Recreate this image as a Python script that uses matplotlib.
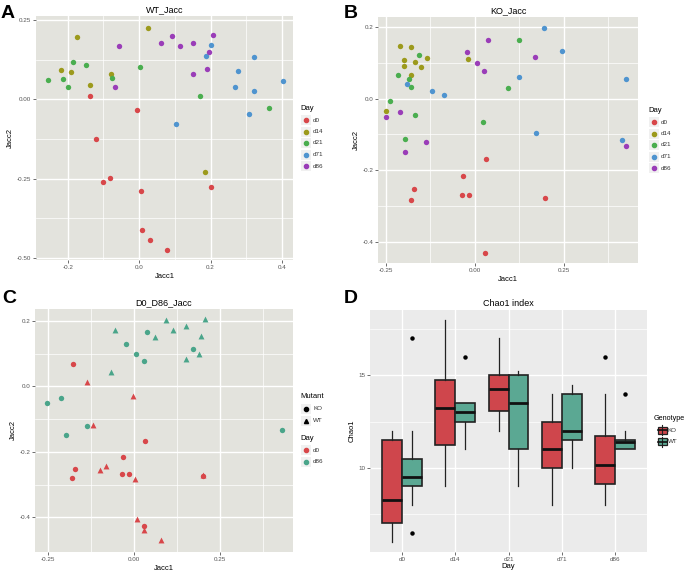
import numpy as np
import matplotlib
matplotlib.use("Agg")
import matplotlib.pyplot as plt
from matplotlib.lines import Line2D
from matplotlib.patches import Rectangle

plt.rcParams["font.family"] = ["Liberation Sans", "DejaVu Sans"]

# ---- data -------------------------------------------------------------
days = ["d0", "d14", "d21", "d71", "d86"]
day_colors = ["#d8474a", "#9c9a1c", "#4aae4f", "#4f94cf", "#9a3db8"]

# panel A: WT Jaccard ordination
wt_x = {
    "d0": [-0.137, -0.006, -0.121, -0.101, -0.083, 0.005, 0.201, 0.007, 0.029, 0.079],
    "d14": [0.024, -0.175, -0.219, -0.192, -0.080, -0.139, 0.184],
    "d21": [-0.254, -0.212, -0.200, -0.186, -0.150, -0.077, 0.001, 0.171, 0.365],
    "d71": [0.200, 0.187, 0.323, 0.276, 0.268, 0.323, 0.402, 0.309, 0.103],
    "d86": [-0.057, 0.062, 0.092, 0.114, 0.150, 0.208, 0.195, 0.150, 0.189, -0.068],
}
wt_y = {
    "d0": [0.010, -0.034, -0.124, -0.259, -0.248, -0.289, -0.275, -0.410, -0.444, -0.473],
    "d14": [0.226, 0.197, 0.093, 0.087, 0.081, 0.047, -0.229],
    "d21": [0.061, 0.066, 0.039, 0.118, 0.109, 0.068, 0.103, 0.010, -0.026],
    "d71": [0.171, 0.138, 0.133, 0.089, 0.038, 0.026, 0.058, -0.047, -0.076],
    "d86": [0.167, 0.179, 0.199, 0.169, 0.179, 0.203, 0.151, 0.081, 0.095, 0.040],
}

# panel B: KO Jaccard ordination
ko_x = {
    "d0": [0.030, -0.033, -0.171, -0.179, -0.035, -0.016, 0.197, 0.029],
    "d14": [-0.211, -0.178, -0.199, -0.167, -0.135, -0.199, -0.178, -0.152, -0.018, -0.250],
    "d21": [-0.156, -0.215, -0.184, -0.179, -0.238, -0.168, -0.197, 0.022, 0.094, 0.123],
    "d71": [-0.191, -0.121, -0.088, 0.125, 0.194, 0.244, 0.424, 0.172, 0.412],
    "d86": [0.038, -0.023, 0.005, 0.027, 0.170, -0.210, -0.250, -0.138, -0.197, 0.425],
}
ko_y = {
    "d0": [-0.170, -0.216, -0.254, -0.285, -0.270, -0.270, -0.279, -0.431],
    "d14": [0.148, 0.145, 0.108, 0.101, 0.113, 0.091, 0.066, 0.087, 0.110, -0.034],
    "d21": [0.123, 0.065, 0.055, 0.033, -0.007, -0.047, -0.112, -0.067, 0.030, 0.164],
    "d71": [0.041, 0.020, 0.010, 0.060, 0.197, 0.134, 0.055, -0.096, -0.117],
    "d86": [0.164, 0.130, 0.100, 0.076, 0.115, -0.038, -0.051, -0.122, -0.150, -0.133],
}

# panel C: d0 vs d86, both genotypes
c_ko_d0_x = [-0.179, 0.031, -0.032, -0.172, -0.181, -0.035, -0.016, 0.199, 0.028]
c_ko_d0_y = [0.068, -0.168, -0.215, -0.252, -0.281, -0.268, -0.268, -0.274, -0.428]
c_wt_d0_x = [-0.137, -0.005, -0.120, -0.101, -0.083, 0.003, 0.200, 0.007, 0.028, 0.078]
c_wt_d0_y = [0.014, -0.029, -0.119, -0.256, -0.243, -0.284, -0.271, -0.405, -0.440, -0.470]
c_ko_d86_x = [0.038, -0.023, 0.004, 0.028, 0.172, -0.212, -0.253, -0.139, -0.199, 0.431]
c_ko_d86_y = [0.165, 0.130, 0.100, 0.078, 0.115, -0.037, -0.050, -0.121, -0.148, -0.132]
c_wt_d86_x = [-0.056, 0.061, 0.091, 0.112, 0.150, 0.207, 0.194, 0.150, 0.189, -0.068]
c_wt_d86_y = [0.172, 0.152, 0.203, 0.172, 0.183, 0.205, 0.155, 0.084, 0.099, 0.045]

# panel D: Chao1 boxplot stats (per day: KO, WT)
chao_ko = dict(whislo=[6.0, 9.0, 12.0, 8.0, 8.0], q1=[7.0, 11.25, 13.1, 10.0, 9.15],
               med=[8.25, 13.25, 14.25, 11.0, 10.15], q3=[11.5, 14.75, 15.0, 12.5, 11.75],
               whishi=[12.0, 18.0, 17.0, 14.0, 14.0], fliers=[[], [], [], [], [16.0]])
chao_wt = dict(whislo=[8.0, 11.0, 9.0, 10.0, 11.0], q1=[9.0, 12.5, 11.0, 11.5, 11.0],
               med=[9.5, 13.0, 13.5, 12.0, 11.4], q3=[10.5, 13.5, 15.0, 14.0, 11.5],
               whishi=[12.0, 13.5, 15.25, 14.5, 12.0], fliers=[[17.0, 6.5], [16.0], [], [], [14.0]])
geno_colors = {"KO": "#cf464c", "WT": "#5ba893"}
teal = "#4aa58a"

# ---- helpers ----------------------------------------------------------
BG_OLD = "#e3e3dd"
BG_NEW = "#ebebeb"
TICK_C = "#555555"


def gg_axes(ax, bg, xmaj, xmin, ymaj, ymin, xlabs, ylabs):
    ax.set_facecolor(bg)
    for s in ax.spines.values():
        s.set_visible(False)
    for v in xmin:
        ax.axvline(v, color="white", lw=0.5, zorder=0)
    for v in ymin:
        ax.axhline(v, color="white", lw=0.5, zorder=0)
    for v in xmaj:
        ax.axvline(v, color="white", lw=1.0, zorder=0)
    for v in ymaj:
        ax.axhline(v, color="white", lw=1.0, zorder=0)
    ax.set_xticks(xmaj)
    ax.set_xticklabels(xlabs)
    ax.set_yticks(ymaj)
    ax.set_yticklabels(ylabs)
    ax.tick_params(length=2, width=0.5, color="#333333", labelsize=4.5,
                   labelcolor=TICK_C, pad=1.5)


def dot_legend(fig, x, y, title, labels, colors, markers=None, step=11.5):
    W, H = 689.0, 575.0
    fig.text(x / W, 1 - y / H, title, fontsize=5.5, va="center", ha="left")
    for i, lab in enumerate(labels):
        yy = y + 12 + i * step
        fig.add_artist(Rectangle(((x + 0.5) / W, 1 - (yy + 5) / H), 10 / W, 10 / H,
                                 transform=fig.transFigure, color="#f0f0f0", lw=0))
        m = markers[i] if markers else "o"
        fig.add_artist(Line2D([(x + 5.5) / W], [1 - yy / H], marker=m, markersize=3,
                              color=colors[i], lw=0, transform=fig.transFigure))
        fig.text((x + 13) / W, 1 - yy / H, lab, fontsize=4.5, va="center", ha="left",
                 color="#333333")


fig = plt.figure(figsize=(6.89, 5.75), dpi=100)
W, H = 689.0, 575.0


def add_ax(l, t, r, b):
    return fig.add_axes([l / W, 1 - b / H, (r - l) / W, (b - t) / H])


# ---- A ------------------------------------------------------------------
axA = add_ax(36, 16, 293, 260)
gg_axes(axA, BG_OLD, [-0.2, 0.0, 0.2, 0.4], [-0.1, 0.1, 0.3],
        [0.25, 0.0, -0.25, -0.5], [0.125, -0.125, -0.375],
        ["-0.2", "0.0", "0.2", "0.4"], ["0.25", "0.00", "-0.25", "-0.50"])
for d, c in zip(days, day_colors):
    axA.scatter(wt_x[d], wt_y[d], s=15, color=c, lw=0, zorder=3)
axA.set_xlim(-0.289, 0.431)
axA.set_ylim(-0.506, 0.263)
axA.set_title("WT_Jacc", fontsize=6.5, pad=3)
axA.set_xlabel("Jacc1", fontsize=5.5, labelpad=2)
axA.set_ylabel("Jacc2", fontsize=5.5, labelpad=2)
dot_legend(fig, 300, 108, "Day", days, day_colors)

# ---- B ------------------------------------------------------------------
axB = add_ax(378, 17, 638, 263)
gg_axes(axB, BG_OLD, [-0.25, 0.0, 0.25], [-0.125, 0.125, 0.375],
        [0.2, 0.0, -0.2, -0.4], [0.1, -0.1, -0.3],
        ["-0.25", "0.00", "0.25"], ["0.2", "0.0", "-0.2", "-0.4"])
for d, c in zip(days, day_colors):
    axB.scatter(ko_x[d], ko_y[d], s=15, color=c, lw=0, zorder=3)
axB.set_xlim(-0.272, 0.458)
axB.set_ylim(-0.460, 0.228)
axB.set_title("KO_Jacc", fontsize=6.5, pad=3)
axB.set_xlabel("Jacc1", fontsize=5.5, labelpad=2)
axB.set_ylabel("Jacc2", fontsize=5.5, labelpad=2)
dot_legend(fig, 648, 110, "Day", days, day_colors)

# ---- C ------------------------------------------------------------------
axC = add_ax(35, 309, 293, 552)
gg_axes(axC, BG_OLD, [-0.25, 0.0, 0.25], [-0.125, 0.125, 0.375],
        [0.2, 0.0, -0.2, -0.4], [0.1, -0.1, -0.3],
        ["-0.25", "0.00", "0.25"], ["0.2", "0.0", "-0.2", "-0.4"])
red = day_colors[0]
axC.scatter(c_ko_d0_x, c_ko_d0_y, s=15, color=red, marker="o", lw=0, zorder=3)
axC.scatter(c_wt_d0_x, c_wt_d0_y, s=18, color=red, marker="^", lw=0, zorder=3)
axC.scatter(c_ko_d86_x, c_ko_d86_y, s=15, color=teal, marker="o", lw=0, zorder=3)
axC.scatter(c_wt_d86_x, c_wt_d86_y, s=18, color=teal, marker="^", lw=0, zorder=3)
axC.set_xlim(-0.289, 0.462)
axC.set_ylim(-0.506, 0.236)
axC.set_title("D0_D86_Jacc", fontsize=6.5, pad=3)
axC.set_xlabel("Jacc1", fontsize=5.5, labelpad=2)
axC.set_ylabel("Jacc2", fontsize=5.5, labelpad=2)
dot_legend(fig, 300, 397, "Mutant", ["KO", "WT"], ["black", "black"], markers=["o", "^"])
dot_legend(fig, 300, 438, "Day", ["d0", "d86"], [red, teal])

# ---- D ------------------------------------------------------------------
axD = add_ax(370, 310, 647, 552)
gg_axes(axD, BG_NEW, [1, 2, 3, 4, 5], [], [10, 15], [7.5, 12.5, 17.5],
        days, ["10", "15"])
pos = np.arange(1, 6)
for geno, st, off in [("KO", chao_ko, -0.1875), ("WT", chao_wt, 0.1875)]:
    stats = []
    for i in range(5):
        stats.append(dict(whislo=st["whislo"][i], q1=st["q1"][i], med=st["med"][i],
                          q3=st["q3"][i], whishi=st["whishi"][i], fliers=st["fliers"][i]))
    axD.bxp(stats, positions=pos + off, widths=0.375, patch_artist=True, showcaps=False,
            boxprops=dict(facecolor=geno_colors[geno], edgecolor="#222222", lw=1.2),
            medianprops=dict(color="#111111", lw=2.0),
            whiskerprops=dict(color="#222222", lw=0.9),
            flierprops=dict(marker="o", markersize=2.2, markerfacecolor="black",
                            markeredgecolor="black"),
            manage_ticks=False, zorder=3)
axD.set_xlim(0.4, 5.6)
axD.set_ylim(5.45, 18.54)
axD.set_title("Chao1 index", fontsize=6.5, pad=3)
axD.set_xlabel("Day", fontsize=5.5, labelpad=1)
axD.set_ylabel("Chao1", fontsize=5.5, labelpad=2)

# boxplot legend
fig.text(654 / W, 1 - 418 / H, "Genotype", fontsize=5.2, va="center", ha="left")
for i, g in enumerate(["KO", "WT"]):
    yy = 430 + i * 11.5
    fig.add_artist(Line2D([662 / W, 662 / W], [1 - (yy - 5) / H, 1 - (yy + 5) / H],
                          color="#222222", lw=0.8, transform=fig.transFigure))
    fig.add_artist(Rectangle((657.5 / W, 1 - (yy + 3.5) / H), 9 / W, 7 / H,
                             transform=fig.transFigure, facecolor=geno_colors[g],
                             edgecolor="#222222", lw=0.9))
    fig.add_artist(Line2D([657.5 / W, 666.5 / W], [1 - yy / H, 1 - yy / H],
                          color="#111111", lw=1.2, transform=fig.transFigure))
    fig.text(668 / W, 1 - yy / H, g, fontsize=4.5, va="center", ha="left", color="#333333")

# panel letters
for lab, x, y in [("A", 1, 14), ("B", 344, 14), ("C", 2, 298), ("D", 344, 298)]:
    fig.text(x / W, 1 - y / H, lab, fontsize=14, fontweight="bold", va="center", ha="left")

fig.savefig("out.png", dpi=100)
